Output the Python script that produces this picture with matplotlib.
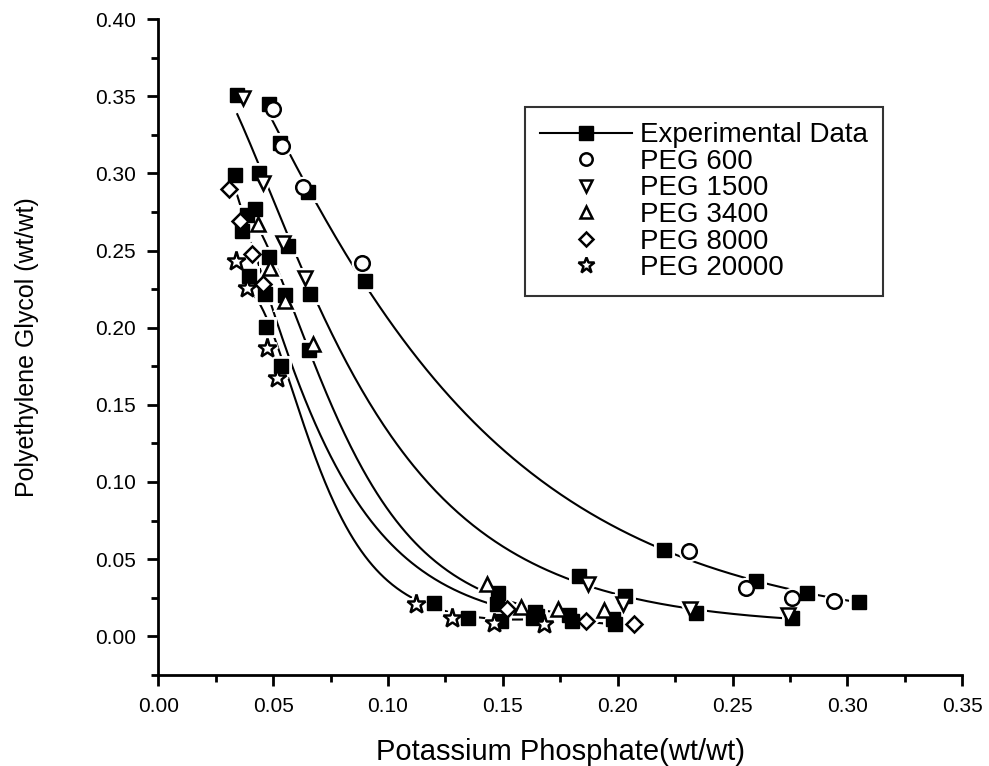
import numpy as np
import matplotlib
matplotlib.use("Agg")
import matplotlib.pyplot as plt
from matplotlib.ticker import MultipleLocator, FormatStrFormatter

plt.rcParams["font.family"] = ["Liberation Sans", "DejaVu Sans"]

# experimental data (filled squares), one pair of arrays per PEG
exp_x_600 = [0.048, 0.053, 0.065, 0.090, 0.220, 0.260, 0.2825, 0.305]
exp_y_600 = [0.345, 0.320, 0.288, 0.230, 0.056, 0.036, 0.028, 0.022]
exp_x_1500 = [0.0344, 0.044, 0.0566, 0.066, 0.183, 0.203, 0.234, 0.276]
exp_y_1500 = [0.351, 0.300, 0.253, 0.222, 0.039, 0.026, 0.015, 0.012]
exp_x_3400 = [0.042, 0.048, 0.055, 0.0657, 0.148, 0.164, 0.179, 0.198]
exp_y_3400 = [0.277, 0.246, 0.2214, 0.1857, 0.028, 0.016, 0.014, 0.011]
exp_x_8000 = [0.0335, 0.0387, 0.0366, 0.0466, 0.1475, 0.165, 0.180, 0.199]
exp_y_8000 = [0.299, 0.273, 0.263, 0.222, 0.021, 0.013, 0.010, 0.008]
exp_x_20000 = [0.0396, 0.047, 0.0535, 0.120, 0.135, 0.149, 0.163]
exp_y_20000 = [0.2337, 0.2006, 0.175, 0.0215, 0.012, 0.010, 0.012]

# model predictions (open markers)
peg600_x = [0.050, 0.054, 0.063, 0.0888, 0.231, 0.256, 0.276, 0.294]
peg600_y = [0.342, 0.318, 0.291, 0.242, 0.055, 0.031, 0.025, 0.023]
peg1500_x = [0.037, 0.0457, 0.0545, 0.064, 0.187, 0.2025, 0.2316, 0.274]
peg1500_y = [0.349, 0.294, 0.255, 0.2325, 0.034, 0.021, 0.018, 0.014]
peg3400_x = [0.0435, 0.0488, 0.0553, 0.0675, 0.143, 0.158, 0.174, 0.194]
peg3400_y = [0.267, 0.239, 0.2175, 0.1896, 0.034, 0.019, 0.0175, 0.017]
peg8000_x = [0.031, 0.0357, 0.041, 0.0457, 0.152, 0.186, 0.207]
peg8000_y = [0.290, 0.269, 0.248, 0.2286, 0.0175, 0.010, 0.008]
peg20000_x = [0.034, 0.0387, 0.0475, 0.0518, 0.112, 0.128, 0.146, 0.168]
peg20000_y = [0.2435, 0.226, 0.187, 0.1675, 0.021, 0.012, 0.0085, 0.008]

exp_sets = [(exp_x_600, exp_y_600), (exp_x_1500, exp_y_1500), (exp_x_3400, exp_y_3400),
            (exp_x_8000, exp_y_8000), (exp_x_20000, exp_y_20000)]
model_sets = [(peg600_x, peg600_y, "o", "PEG 600"),
              (peg1500_x, peg1500_y, "v", "PEG 1500"),
              (peg3400_x, peg3400_y, "^", "PEG 3400"),
              (peg8000_x, peg8000_y, "D", "PEG 8000"),
              (peg20000_x, peg20000_y, "*", "PEG 20000")]
marker_size = {"o": 10.5, "v": 10.5, "^": 10.5, "D": 8.5, "*": 14}


def binodal_fit(x, y):
    # least squares fit of ln y = A + B*sqrt(x) + C*x + D*x^3
    x = np.asarray(x)
    y = np.asarray(y)
    M = np.column_stack([np.ones_like(x), np.sqrt(x), x, x ** 3])
    coef = np.linalg.lstsq(M, np.log(y), rcond=None)[0]
    xs = np.linspace(x.min(), x.max(), 300)
    Ms = np.column_stack([np.ones_like(xs), np.sqrt(xs), xs, xs ** 3])
    return xs, np.exp(Ms @ coef)


fig = plt.figure(figsize=(9.89, 7.66), dpi=100)
ax = fig.add_axes([0.160, 0.119, 0.813, 0.856])

for ex, ey in exp_sets:
    xs, ys = binodal_fit(ex, ey)
    ax.plot(xs, ys, color="black", lw=1.5, zorder=2)
    # white rim so the curve stops short of each marker
    ax.plot(ex, ey, ls="none", marker="s", ms=9.5, mfc="white", mec="white",
            mew=5, zorder=2.5)
    ax.plot(ex, ey, ls="none", marker="s", ms=9.5, mfc="black", mec="black",
            zorder=3)

for mx, my, mk, name in model_sets:
    ax.plot(mx, my, ls="none", marker=mk, ms=marker_size[mk], mfc="white",
            mec="white", mew=5, zorder=2.5)
    ax.plot(mx, my, ls="none", marker=mk, ms=marker_size[mk], mfc="white",
            mec="black", mew=1.8, zorder=4)

ax.set_xlim(0, 0.35)
ax.set_ylim(-0.025, 0.40)
ax.xaxis.set_major_locator(MultipleLocator(0.05))
ax.xaxis.set_minor_locator(MultipleLocator(0.025))
ax.yaxis.set_major_locator(MultipleLocator(0.05))
ax.yaxis.set_minor_locator(MultipleLocator(0.025))
ax.xaxis.set_major_formatter(FormatStrFormatter("%.2f"))
ax.yaxis.set_major_formatter(FormatStrFormatter("%.2f"))
ax.tick_params(which="major", direction="out", length=8, width=2, labelsize=15, pad=8)
ax.tick_params(which="minor", direction="out", length=5, width=2)
for side in ["top", "right"]:
    ax.spines[side].set_visible(False)
for side in ["left", "bottom"]:
    ax.spines[side].set_linewidth(2)

ax.set_xlabel("Potassium Phosphate(wt/wt)", fontsize=21, labelpad=16)
ax.set_ylabel("Polyethylene Glycol (wt/wt)", fontsize=18, labelpad=40)

# legend built from the same marker styles
handles = [plt.Line2D([], [], color="black", lw=1.5, marker="s", ms=9.5, mfc="black")]
labels = ["Experimental Data"]
for mx, my, mk, name in model_sets:
    handles.append(plt.Line2D([], [], ls="none", marker=mk, ms=marker_size[mk] * 0.85,
                              mfc="white", mec="black", mew=1.8))
    labels.append(name)
leg = ax.legend(handles, labels, loc="upper left", bbox_to_anchor=(0.456, 0.866),
                borderaxespad=0, fontsize=20, frameon=True, fancybox=False,
                edgecolor="black", handlelength=3.3, labelspacing=0.02,
                borderpad=0.55, handletextpad=0.3)
leg.get_frame().set_linewidth(1.5)

fig.savefig("out.png", dpi=100)
